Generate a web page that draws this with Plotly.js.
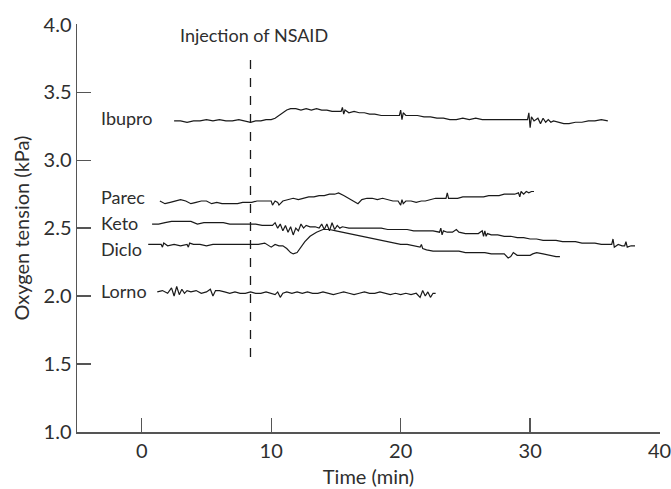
<!DOCTYPE html>
<html>
<head>
<meta charset="utf-8">
<script src="https://cdn.plot.ly/plotly-3.0.1.min.js"></script>
<style>html,body{margin:0;padding:0;background:#fff;}#chart{width:671px;height:489px;}</style>
</head>
<body>
<div id="chart"></div>
<script>
// ---- data ----
const seriesNames = ["Ibupro", "Parec", "Keto", "Diclo", "Lorno"];
const labelY = [3.31, 2.73, 2.54, 2.35, 2.04];
const labelX = -3.3;

const ibuproX = [2.5,3,3.5,4,4.5,5,5.5,6,6.5,7,7.5,8,8.4,8.8,9.2,9.6,10,10.3,10.6,10.9,11.2,11.5,11.9,12.3,12.7,13.1,13.5,13.9,14.3,14.7,15.1,15.4,15.5,15.6,15.7,16,16.4,16.8,17.2,17.6,18,18.5,19,19.5,19.9,20.0,20.1,20.2,20.4,20.8,21.3,21.8,22.3,22.8,23.3,23.8,24.3,24.8,25.3,25.8,26.3,26.8,27.3,27.8,28.3,28.8,29.3,29.8,29.9,30.0,30.1,30.3,30.6,30.8,31.0,31.2,31.4,31.6,31.8,32.2,32.6,33.0,33.5,34.0,34.5,35.0,35.5,36.0];
const ibuproY = [3.29,3.29,3.28,3.29,3.29,3.30,3.29,3.30,3.29,3.29,3.30,3.29,3.28,3.29,3.29,3.30,3.30,3.31,3.33,3.35,3.37,3.38,3.38,3.37,3.38,3.37,3.38,3.37,3.37,3.36,3.36,3.36,3.39,3.34,3.37,3.35,3.36,3.35,3.35,3.34,3.34,3.33,3.33,3.33,3.33,3.37,3.30,3.35,3.33,3.33,3.33,3.32,3.32,3.31,3.31,3.30,3.30,3.31,3.30,3.31,3.30,3.30,3.30,3.30,3.30,3.30,3.30,3.30,3.35,3.24,3.32,3.29,3.31,3.27,3.31,3.28,3.30,3.28,3.29,3.28,3.27,3.27,3.28,3.28,3.29,3.29,3.30,3.29];

const parecX = [1.4,1.8,2.2,2.6,3.0,3.4,3.8,4.2,4.6,5.0,5.4,5.8,6.2,6.6,7.0,7.4,7.8,8.2,8.5,8.9,9.3,9.7,10.0,10.1,10.3,10.5,10.6,10.9,11.3,11.7,12.1,12.5,12.9,13.3,13.7,14.1,14.5,14.9,15.2,15.6,16.0,16.4,16.7,17.0,17.4,17.8,18.2,18.6,19.0,19.4,19.8,20.0,20.1,20.2,20.4,20.8,21.2,21.6,21.9,22.3,22.7,23.1,23.5,23.6,23.7,24.0,24.4,24.8,25.2,25.6,26.0,26.4,26.8,27.2,27.6,28.0,28.4,28.8,29.1,29.2,29.3,29.5,29.7,29.9,30.1,30.3];
const parecY = [2.70,2.68,2.69,2.70,2.71,2.70,2.68,2.69,2.70,2.70,2.68,2.69,2.68,2.68,2.68,2.68,2.69,2.69,2.69,2.70,2.70,2.70,2.70,2.67,2.70,2.69,2.67,2.70,2.71,2.72,2.71,2.72,2.73,2.73,2.74,2.74,2.75,2.75,2.76,2.74,2.72,2.70,2.68,2.71,2.72,2.72,2.71,2.72,2.71,2.70,2.70,2.67,2.71,2.68,2.70,2.70,2.69,2.70,2.70,2.71,2.72,2.72,2.72,2.76,2.72,2.72,2.72,2.73,2.73,2.73,2.73,2.73,2.74,2.74,2.74,2.75,2.75,2.75,2.76,2.73,2.77,2.75,2.77,2.76,2.77,2.77];

const ketoX = [0.8,1.3,1.8,2.3,2.8,3.3,3.8,4.3,4.8,5.3,5.8,6.3,6.8,7.3,7.8,8.3,8.8,9.3,9.8,10.1,10.3,10.5,10.7,10.9,11.1,11.3,11.5,11.7,11.9,12.1,12.3,12.5,12.7,13.0,13.4,13.7,13.9,14.1,14.3,14.5,14.7,14.9,15.1,15.3,15.5,16.0,16.5,17.0,17.5,18.0,18.5,19.0,19.5,20.0,20.5,21.0,21.5,22.0,22.5,23.0,23.1,23.2,23.3,23.6,24.0,24.3,24.5,25.0,25.5,26.0,26.3,26.4,26.5,26.6,26.7,27.0,27.5,28.0,28.5,29.0,29.5,30.0,30.5,31.0,31.5,32.0,32.5,33.0,33.5,34.0,34.5,35.0,35.5,36.0,36.3,36.4,36.5,36.8,37.1,37.3,37.4,37.5,37.8,38.1];
const ketoY = [2.53,2.53,2.54,2.55,2.55,2.55,2.55,2.53,2.54,2.54,2.54,2.54,2.53,2.53,2.53,2.53,2.53,2.52,2.52,2.52,2.54,2.50,2.53,2.48,2.52,2.47,2.51,2.45,2.50,2.48,2.53,2.50,2.52,2.51,2.51,2.50,2.53,2.49,2.53,2.48,2.54,2.49,2.52,2.50,2.51,2.50,2.50,2.50,2.50,2.50,2.50,2.49,2.49,2.49,2.49,2.48,2.48,2.48,2.48,2.47,2.50,2.45,2.48,2.47,2.47,2.49,2.47,2.46,2.46,2.46,2.48,2.44,2.48,2.44,2.46,2.45,2.45,2.44,2.44,2.43,2.43,2.42,2.42,2.41,2.41,2.41,2.40,2.40,2.40,2.39,2.39,2.39,2.38,2.38,2.38,2.42,2.36,2.38,2.37,2.37,2.40,2.36,2.37,2.37];

const dicloX = [0.5,1.0,1.5,1.6,1.7,2.0,2.5,3.0,3.5,3.6,3.7,4.0,4.5,5.0,5.5,6.0,6.5,7.0,7.5,8.0,8.5,9.0,9.5,10.0,10.3,10.6,10.9,11.2,11.5,11.7,12.0,12.3,12.6,13.0,13.5,14.0,14.5,15.0,15.5,16.0,16.5,17.0,17.5,18.0,18.5,19.0,19.5,20.0,20.5,21.0,21.5,21.6,21.7,22.0,22.5,23.0,23.5,24.0,24.5,25.0,25.5,26.0,26.5,27.0,27.5,28.0,28.3,28.5,28.7,29.0,29.5,30.0,30.2,30.5,31.0,31.5,32.0,32.3];
const dicloY = [2.38,2.38,2.38,2.36,2.39,2.37,2.38,2.37,2.38,2.36,2.39,2.38,2.38,2.37,2.38,2.38,2.38,2.38,2.38,2.38,2.38,2.38,2.39,2.36,2.38,2.37,2.37,2.35,2.32,2.31,2.32,2.36,2.40,2.44,2.47,2.49,2.49,2.48,2.47,2.46,2.45,2.44,2.43,2.42,2.41,2.40,2.39,2.38,2.38,2.37,2.36,2.38,2.35,2.34,2.33,2.33,2.33,2.33,2.33,2.32,2.32,2.32,2.32,2.31,2.31,2.31,2.28,2.29,2.32,2.30,2.30,2.30,2.31,2.32,2.31,2.30,2.29,2.29];

const lornoX = [1.2,1.6,2.0,2.3,2.5,2.7,2.9,3.1,3.3,3.5,3.8,4.2,4.6,5.0,5.3,5.5,5.7,6.0,6.4,6.8,7.2,7.6,8.0,8.4,8.8,9.2,9.6,10.0,10.3,10.5,10.7,10.9,11.2,11.6,12.0,12.4,12.8,13.2,13.6,14.0,14.4,14.8,15.2,15.6,16.0,16.4,16.8,17.2,17.6,18.0,18.4,18.8,19.2,19.6,20.0,20.4,20.8,21.2,21.5,21.7,21.9,22.1,22.3,22.5,22.7];
const lornoY = [2.03,2.04,2.02,2.06,2.00,2.07,2.01,2.05,2.02,2.04,2.03,2.04,2.02,2.03,2.05,2.00,2.04,2.04,2.03,2.02,2.03,2.02,2.02,2.03,2.02,2.02,2.03,2.02,2.01,2.03,1.99,2.02,2.03,2.02,2.03,2.02,2.03,2.02,2.02,2.03,2.02,2.01,2.02,2.03,2.02,2.01,2.02,2.03,2.02,2.02,2.03,2.02,2.01,2.02,2.01,2.02,2.01,2.02,1.99,2.04,2.00,2.03,1.99,2.02,2.02];

const injectionTime = 8.4;
const injectionSpan = [1.55, 3.77];
const injectionLabel = "Injection of NSAID";
const injectionLabelY = 3.92;

const xTicks = [0, 10, 20, 30, 40];
const yTicks = [1.0, 1.5, 2.0, 2.5, 3.0, 3.5, 4.0];

// ---- build ----
const allX = [ibuproX, parecX, ketoX, dicloX, lornoX];
const allY = [ibuproY, parecY, ketoY, dicloY, lornoY];
const FONT = "Lato, 'Open Sans', sans-serif";
const TXT = "#2e2e2e";

const traces = seriesNames.map((n, i) => ({
  type: "scatter", mode: "lines", name: n,
  x: allX[i], y: allY[i],
  line: {color: "#1a1a1a", width: 1.2},
  showlegend: false, hoverinfo: "skip"
}));

const annotations = seriesNames.map((n, i) => ({
  x: labelX, y: labelY[i], xref: "x", yref: "y",
  text: n, showarrow: false, xanchor: "left", yanchor: "middle",
  font: {family: FONT, size: 18, color: TXT}
}));
annotations.push({
  x: injectionTime + 0.3, y: injectionLabelY, xref: "x", yref: "y",
  text: injectionLabel, showarrow: false, xanchor: "center", yanchor: "middle",
  font: {family: FONT, size: 18, color: TXT}
});

const layout = {
  width: 671, height: 489,
  margin: {l: 77, r: 11, t: 24, b: 57},
  paper_bgcolor: "#fff", plot_bgcolor: "#fff",
  font: {family: FONT, color: TXT, size: 20},
  xaxis: {
    range: [-5, 40.03], tickvals: xTicks, ticktext: xTicks.map(String),
    ticks: "inside", ticklen: 14, tickwidth: 1.3, tickcolor: "#555",
    ticklabeloverflow: "allow",
    showline: true, linecolor: "#555", linewidth: 1.5,
    showgrid: false, zeroline: false,
    tickfont: {family: FONT, size: 20, color: TXT},
    title: {text: "Time (min)", font: {family: FONT, size: 20, color: TXT}, standoff: 9}
  },
  yaxis: {
    range: [0.998, 4.004], tickvals: yTicks, ticktext: yTicks.map(v => v.toFixed(1)),
    ticks: "inside", ticklen: 14, tickwidth: 1.3, tickcolor: "#555",
    ticklabeloverflow: "allow",
    showline: true, linecolor: "#555", linewidth: 1.5,
    showgrid: false, zeroline: false,
    tickfont: {family: FONT, size: 20, color: TXT},
    title: {text: "Oxygen tension (kPa)", font: {family: FONT, size: 20, color: TXT}, standoff: 8}
  },
  shapes: [{
    type: "line", xref: "x", yref: "y",
    x0: injectionTime, x1: injectionTime, y0: injectionSpan[0], y1: injectionSpan[1],
    line: {color: "#1a1a1a", width: 1.3, dash: "dash"}
  }],
  annotations: annotations
};

Plotly.newPlot("chart", traces, layout, {displayModeBar: false, staticPlot: true});
</script>
</body>
</html>
